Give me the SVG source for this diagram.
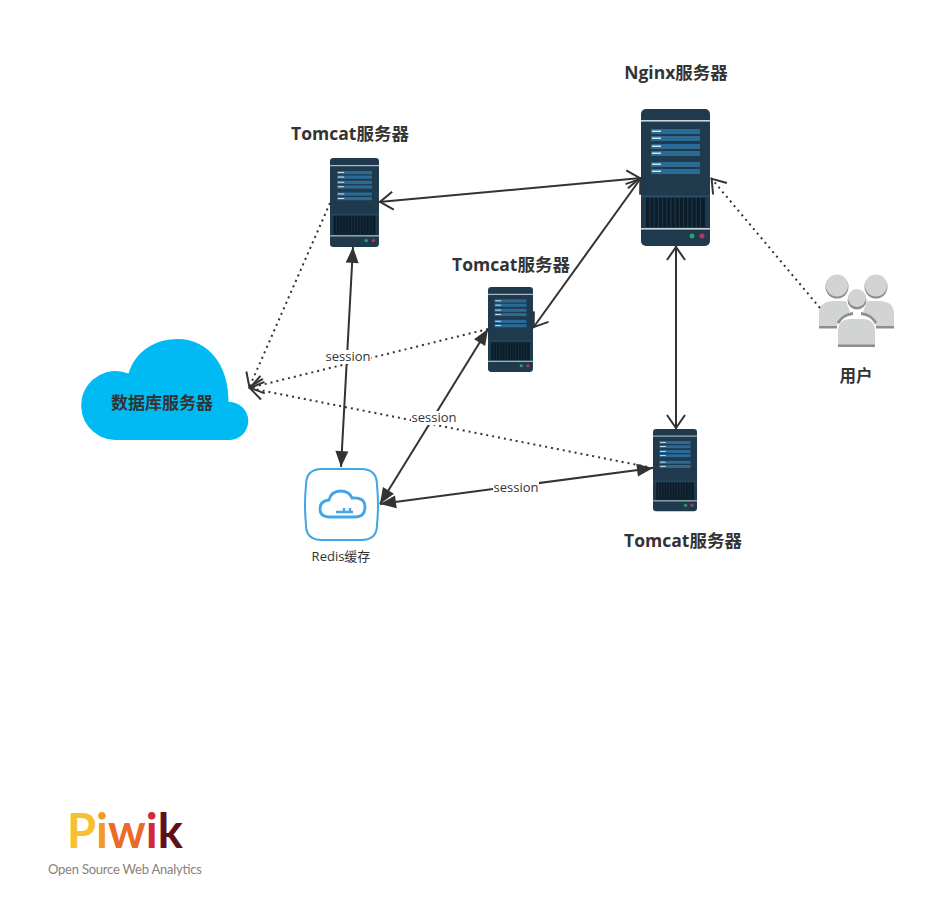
<svg xmlns="http://www.w3.org/2000/svg" xmlns:xlink="http://www.w3.org/1999/xlink" width="948" height="912" viewBox="0 0 948 912">
<style>
text{font-family:"Open Sans","Noto Sans CJK SC",sans-serif;fill:#333}
.t{font-size:17.5px;font-weight:700;text-anchor:middle}
.s{font-size:13px;text-anchor:middle}
.l{stroke:#333;stroke-width:2;fill:none}
.o{marker-start:url(#oa);marker-end:url(#oa)}
.f{marker-start:url(#fa);marker-end:url(#fa)}
.d{stroke-dasharray:2 4;marker-end:url(#oa)}
.bar{fill:#2a6a94}
.hl{fill:#d6e4ee}
.p{fill:#d2d3d3}
.ps{fill:#8d8e8e}
</style>
<defs>
<marker id="oa" markerUnits="userSpaceOnUse" markerWidth="24" markerHeight="24" refX="17" refY="12" orient="auto-start-reverse"><path d="M3 3L16 12L3 21" fill="none" stroke="#333" stroke-width="2"/></marker>
<marker id="fa" markerUnits="userSpaceOnUse" markerWidth="24" markerHeight="24" refX="18" refY="12" orient="auto-start-reverse"><path d="M2 5.500L18 12L2 18.500Z" fill="#333"/></marker>
<g id="srv">
<rect width="69" height="137" rx="5" fill="#1f3a4d"/>
<rect y="11" width="69" height="1.600" fill="#c9d5dc"/>
<g class="bar"><rect x="10" y="20" width="49" height="5"/><rect x="10" y="27" width="49" height="5"/><rect x="10" y="35" width="49" height="5"/><rect x="10" y="42" width="49" height="5"/><rect x="10" y="53" width="49" height="5"/><rect x="10" y="60" width="49" height="5"/></g>
<g class="hl"><rect x="11" y="21.500" width="9" height="1.500"/><rect x="11" y="28.500" width="9" height="1.500"/><rect x="11" y="36.500" width="9" height="1.500"/><rect x="11" y="43.500" width="9" height="1.500"/><rect x="11" y="54.500" width="9" height="1.500"/><rect x="11" y="61.500" width="9" height="1.500"/></g>
<rect y="86" width="69" height="2" fill="#234c62"/>
<rect x="5" y="89" width="59" height="29" fill="#0c1c28"/>
<path d="M9 89V118M13.200 89V118M17.400 89V118M21.600 89V118M25.800 89V118M30 89V118M34.200 89V118M38.400 89V118M42.600 89V118M46.800 89V118M51 89V118M55.200 89V118M59.400 89V118" stroke="#1f3a4d" stroke-width="1"/>
<rect y="119" width="69" height="1.600" fill="#c9d5dc"/>
<circle cx="51" cy="127" r="2.500" fill="#2f9e6e"/><circle cx="61" cy="127" r="2.500" fill="#b5365a"/>
</g>
</defs>

<g id="database">
<path fill="#00bbf3" d="M115 440A34.500 34.500 0 1 1 128.500 373.500C136 350 156 339 178 339C208 339 229 365 228.500 402A19 19 0 0 1 230 440Z"/>
<text class="t" x="162" y="409" style="font-size:17px">数据库服务器</text>
</g>

<g id="nginx"><use xlink:href="#srv" href="#srv" transform="translate(641 109)"/><text class="t" x="676" y="79">Nginx服务器</text></g>
<g id="tomcat1"><use xlink:href="#srv" href="#srv" transform="translate(330 158) scale(.71 .65)"/><text class="t" x="350" y="140">Tomcat服务器</text></g>
<g id="tomcat2"><use xlink:href="#srv" href="#srv" transform="translate(488 287) scale(.652 .62)"/><text class="t" x="511" y="271">Tomcat服务器</text></g>
<g id="tomcat3"><use xlink:href="#srv" href="#srv" transform="translate(653 429) scale(.638 .6)"/><text class="t" x="683" y="547">Tomcat服务器</text></g>

<g id="users">
<circle class="ps" cx="837" cy="287" r="11.500"/><circle class="p" cx="837" cy="285.500" r="11"/>
<circle class="ps" cx="876" cy="287" r="11.500"/><circle class="p" cx="876" cy="285.500" r="11"/>
<path class="p" d="M819 326V314Q819 302 832 301H846L850 312Q840 316 837 326Z"/>
<path class="p" d="M894 326V314Q894 302 881 301H867L863 312Q873 316 876 326Z"/>
<rect class="ps" x="819" y="326" width="18" height="2.500"/><rect class="ps" x="876" y="326" width="18" height="2.500"/>
<circle class="ps" cx="857" cy="300" r="9.500"/><circle class="p" cx="857" cy="298" r="9"/>
<path class="ps" d="M837 322Q843 313 853 312V315Q843 316 839 324ZM877 322Q871 313 861 312V315Q871 316 875 324Z"/>
<path class="p" d="M838 345V331Q838 319 851 319H862Q875 319 875 331V345Z"/>
<rect class="ps" x="838" y="344.500" width="37" height="2.500"/>
<text class="t" x="856" y="382" style="font-size:16.500px">用户</text>
</g>

<g id="redis">
<path fill="#fff" stroke="#42a5e8" stroke-width="2" d="M322 469H361Q377 469 377 485Q379 505 377 525Q377 540 361 540H322Q306 540 306 525Q304 505 306 485Q306 469 322 469Z"/>
<path fill="none" stroke="#42a5e8" stroke-width="2.800" d="M330 517Q320 517 320 509Q320 501 329 500Q331 491 341 491Q349 491 352 498Q365 497 365 507Q365 517 355 517Z"/>
<path fill="none" stroke="#42a5e8" stroke-width="2.400" d="M336 512H353M344 512V508M350 512V508"/>
<text x="341" y="561" style="font-size:13px;text-anchor:middle">Redis缓存</text>
</g>

<g id="connectors">
<line class="l o" x1="379" y1="202" x2="641" y2="178"/>
<line class="l o" x1="641" y1="178" x2="533" y2="328"/>
<line class="l o" x1="676" y1="246" x2="676" y2="429"/>
<line class="l d" x1="820" y1="308" x2="711" y2="178"/>
<line class="l d" x1="330" y1="203" x2="249" y2="388"/>
<line class="l d" x1="488" y1="329" x2="249" y2="388"/>
<line class="l d" x1="653" y1="468" x2="249" y2="388"/>
<line class="l f" x1="353" y1="247" x2="341" y2="467"/>
<line class="l f" x1="488" y1="329" x2="380" y2="504"/>
<line class="l f" x1="653" y1="468" x2="380" y2="504"/>
</g>
<g id="connector-labels">
<rect x="325" y="350" width="46" height="14" fill="#fff"/><text class="s" x="348" y="361">session</text>
<rect x="411" y="411" width="46" height="14" fill="#fff"/><text class="s" x="434" y="422">session</text>
<rect x="493" y="481" width="46" height="14" fill="#fff"/><text class="s" x="516" y="492">session</text>
</g>

<g id="piwik">
<text x="67" y="848" style="font-family:Lato,sans-serif;font-size:47px;font-weight:700"><tspan style="fill:#f7c02c">P</tspan><tspan style="fill:#f39a26">i</tspan><tspan style="fill:#ea6a2a">w</tspan><tspan style="fill:#cf2a3a">i</tspan><tspan style="fill:#5e1216">k</tspan></text>
<text x="48" y="874" style="font-family:Lato,sans-serif;font-size:13px;fill:#8a8178" textLength="154">Open Source Web Analytics</text>
</g>
</svg>
